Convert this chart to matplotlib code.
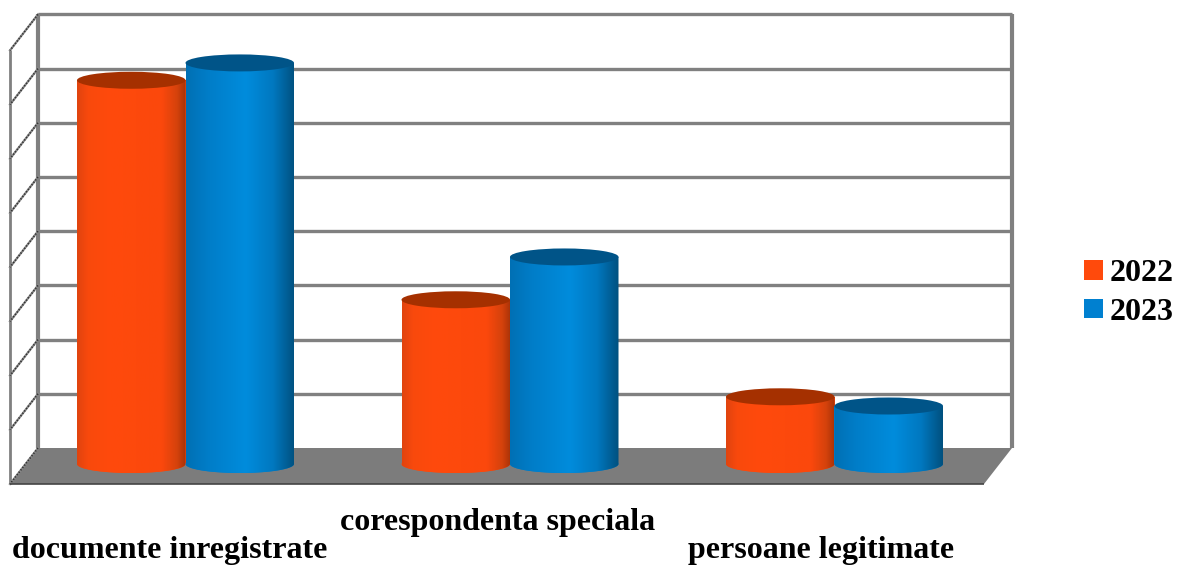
import numpy as np
import matplotlib
matplotlib.use("Agg")
import matplotlib.pyplot as plt
from matplotlib.path import Path
from matplotlib.patches import Ellipse, Polygon, PathPatch, Patch
from matplotlib.colors import LinearSegmentedColormap

categories = ["documente inregistrate", "corespondenta speciala", "persoane legitimate"]
years = ["2022", "2023"]
values_2022 = [7.08, 3.03, 1.24]
values_2023 = [7.40, 3.82, 1.07]
grid_levels = [0, 1, 2, 3, 4, 5, 6, 7, 8]

W, H = 1177, 565
PX_PER_UNIT = 54.2
PX_PER_CAT = 324.5
X0_PX, Y0_PX = 185.5, 448.0

fig = plt.figure(figsize=(W / 100, H / 100), dpi=100, facecolor="white")
ax = fig.add_axes([0, 0, 1, 1])
ax.axis("off")
xlim = (-X0_PX / PX_PER_CAT, (W - X0_PX) / PX_PER_CAT)
ylim = ((Y0_PX - H) / PX_PER_UNIT, Y0_PX / PX_PER_UNIT)

GREY = "#808080"
wall_l = (38 - X0_PX) / PX_PER_CAT
wall_r = (1012 - X0_PX) / PX_PER_CAT
dx = -28 / PX_PER_CAT
dy = -36 / PX_PER_UNIT
top = max(grid_levels)
base_shift = -16 / PX_PER_UNIT

# floor
ax.add_patch(Polygon([(wall_l, 0), (wall_r, 0), (wall_r + dx, dy), (wall_l + dx, dy)],
                     closed=True, fc="#7c7c7c", ec="none", zorder=1))
ax.plot([wall_l + dx, wall_r + dx], [dy, dy], color="#444444", lw=1.2, zorder=2, solid_capstyle="butt")
# back wall grid
for lv in grid_levels[1:]:
    ax.plot([wall_l, wall_r], [lv, lv], color=GREY, lw=2.4, zorder=1.5, solid_capstyle="butt")
ax.plot([wall_l, wall_l], [0, top], color=GREY, lw=3, zorder=1.6, solid_capstyle="butt")
ax.plot([wall_r, wall_r], [0, top], color=GREY, lw=3, zorder=1.6, solid_capstyle="butt")
# side wall
ax.plot([wall_l + dx, wall_l + dx], [dy, top + dy], color=GREY, lw=2, zorder=1.6, solid_capstyle="butt")
for lv in grid_levels:
    ax.plot([wall_l, wall_l + dx], [lv, lv + dy], color="#8a8a8a", lw=1.6, zorder=1.7)
    ax.plot([wall_l, wall_l + dx], [lv, lv + dy], color="#333333", lw=1.2,
            ls=(0, (0.8, 1.0)), zorder=1.8)

width = 108.5 / PX_PER_CAT
ell_h_top = 17 / PX_PER_UNIT
ell_h_bot = 18 / PX_PER_UNIT

cmap_o = LinearSegmentedColormap.from_list("o", [(0, "#e0440f"), (0.1, "#f8490d"), (0.3, "#ff4a0c"),
                                                 (0.78, "#fb480c"), (0.92, "#d5420c"), (1, "#a83208")])
cmap_b = LinearSegmentedColormap.from_list("b", [(0, "#0070b4"), (0.2, "#007dc8"), (0.55, "#008cdc"),
                                                 (0.8, "#0078c0"), (1, "#00507f")])
grad = np.linspace(0, 1, 256)[None, :]

series = [(values_2022, -width / 2, cmap_o, "#ff4a0c", "#a53000"),
          (values_2023, width / 2, cmap_b, "#0080d0", "#005488")]

for cat in range(len(categories)):
    for s, (vals, off, cm, flat, topc) in enumerate(series):
        cx = cat + off
        h = vals[cat]
        z = 3 + s * 0.5 + cat
        bars = ax.bar(cx, h, width=width, bottom=base_shift, color=flat, zorder=z)
        ax.add_patch(Ellipse((cx, base_shift), width, ell_h_bot, fc=flat, ec="none", zorder=z))
        t = np.linspace(np.pi, 2 * np.pi, 60)
        xs = cx + width / 2 * np.cos(t)
        ys = base_shift + ell_h_bot / 2 * np.sin(t)
        verts = np.vstack([[cx - width / 2, base_shift + h], np.c_[xs, ys], [cx + width / 2, base_shift + h],
                           [cx - width / 2, base_shift + h]])
        clip = PathPatch(Path(verts), transform=ax.transData, fc="none", ec="none")
        ax.add_patch(clip)
        im = ax.imshow(grad, extent=(cx - width / 2, cx + width / 2, base_shift - ell_h_bot, base_shift + h),
                       cmap=cm, aspect="auto", zorder=z + 0.1, interpolation="bilinear")
        im.set_clip_path(clip)
        ax.add_patch(Ellipse((cx, base_shift + h), width, ell_h_top, fc=topc, ec="none", zorder=z + 0.2))

ax.set_xlim(*xlim)
ax.set_ylim(*ylim)

serif = "Liberation Serif"
def fx(px): return px / W
def fy(py): return 1 - py / H
label_pos = [(170, 558), (498, 530), (821, 558)]
for name, (px, py) in zip(categories, label_pos):
    fig.text(fx(px), fy(py), name, family=serif, weight="bold", size=23, color="black",
             ha="center", va="baseline")

handles = [Patch(fc="#ff4a0c", ec="none", label=years[0]), Patch(fc="#0080d0", ec="none", label=years[1])]
ax.legend(handles=handles, loc="upper left", bbox_to_anchor=(fx(1081), fy(256)), bbox_transform=fig.transFigure,
          frameon=False, prop={"family": serif, "weight": "bold", "size": 23},
          handlelength=0.6, handleheight=0.55, handletextpad=0.19, labelspacing=0.31, borderpad=0.1, borderaxespad=0)

fig.savefig("out.png", dpi=100, facecolor="white")
